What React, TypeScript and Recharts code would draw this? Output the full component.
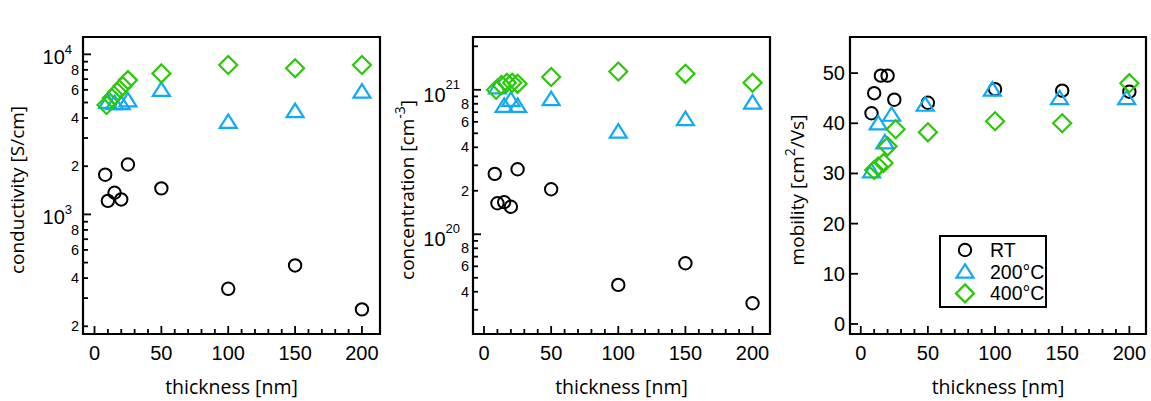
import React from 'react';
import { ScatterChart, Scatter, XAxis, YAxis, ReferenceArea, Legend } from 'recharts';

// ---------- data ----------
const thicknessRT = [8, 10, 15, 20, 25, 50, 100, 150, 200];
const thickness200 = [10, 15, 20, 25, 50, 100, 150, 200];
const thickness400 = [9, 13, 17, 21, 25, 50, 100, 150, 200];
// positions in panel (c) (slightly offset in the original)
const thickness200Mob = [8, 13, 18, 23, 48, 98, 148, 198];
const thickness400Mob = [10, 13, 17, 20, 26, 50, 100, 150, 200];

const conductivityRT = [1770, 1215, 1365, 1240, 2050, 1455, 343, 480, 255];
const conductivity200 = [5050, 4950, 4950, 5150, 6000, 3780, 4420, 5850];
const conductivity400 = [4820, 5340, 5810, 6340, 6900, 7600, 8570, 8180, 8570];

const concentrationRT = [2.62e20, 1.64e20, 1.67e20, 1.55e20, 2.82e20, 2.05e20, 4.46e19, 6.3e19, 3.33e19];
const concentration200 = [1.04e21, 7.74e20, 8.53e20, 7.74e20, 8.62e20, 5.14e20, 6.27e20, 8.16e20];
const concentration400 = [1.0e21, 1.08e21, 1.12e21, 1.12e21, 1.1e21, 1.225e21, 1.34e21, 1.29e21, 1.12e21];

const mobilityRT = [42.0, 46.0, 49.5, 49.5, 44.7, 44.1, 46.8, 46.5, 46.3];
const mobility200 = [30.4, 40.0, 36.2, 41.7, 43.7, 46.7, 45.0, 45.0];
const mobility400 = [30.7, 31.4, 32.1, 35.4, 38.8, 38.2, 40.4, 40.0, 48.0];

const seriesNames = ['RT', '200°C', '400°C'];
const panelTitles = ['(a)', '(b)', '(c)'];

const thickTicks = [0, 10, 20, 30, 40, 50, 60, 70, 80, 90, 100, 110, 120, 130, 140, 150, 160, 170, 180, 190, 200];
const thickLabels = [0, 50, 100, 150, 200];
const condTicks = [200, 300, 400, 500, 600, 700, 800, 900, 1000, 2000, 3000, 4000, 5000, 6000, 7000, 8000, 9000, 10000];
const condMinorLabels = [200, 400, 600, 800, 2000, 4000, 6000, 8000];
const concTicks = [3e19, 4e19, 5e19, 6e19, 7e19, 8e19, 9e19, 1e20, 2e20, 3e20, 4e20, 5e20, 6e20, 7e20, 8e20, 9e20, 1e21, 2e21];
const concMinorLabels = [4e19, 6e19, 8e19, 2e20, 4e20, 6e20, 8e20];
const mobTicks = [0, 10, 20, 30, 40, 50];

// ---------- styles ----------
const BLACK = '#000000';
const BLUE = '#12A9F4';
const GREEN = '#2BC80A';
const FONT_TICK = '"Liberation Sans", Arial, sans-serif';
const FONT_LABEL = '"Open Sans", "Noto Sans", sans-serif';

const zip = (xs: number[], ys: number[]) => xs.map((x, i) => ({ x, y: ys[i] }));

const CircleShape = (p: any) => (
  <circle cx={p.cx} cy={p.cy} r={6.2} fill="none" stroke={BLACK} strokeWidth={2} />
);
const TriangleShape = (p: any) => (
  <polygon
    points={`${p.cx},${p.cy - 7.5} ${p.cx + 8.5},${p.cy + 6} ${p.cx - 8.5},${p.cy + 6}`}
    fill="none"
    stroke={BLUE}
    strokeWidth={2.2}
    strokeLinejoin="miter"
  />
);
const DiamondShape = (p: any) => (
  <polygon
    points={`${p.cx},${p.cy - 9} ${p.cx + 9},${p.cy} ${p.cx},${p.cy + 9} ${p.cx - 9},${p.cy}`}
    fill="none"
    stroke={GREEN}
    strokeWidth={2.2}
  />
);

// ---------- ticks ----------
const BottomTick = (props: any) => {
  const { x, y, payload } = props;
  const v = payload.value as number;
  const major = thickLabels.includes(v);
  return (
    <g>
      <line x1={x} x2={x} y1={y} y2={y - (major ? 8 : 5)} stroke={BLACK} strokeWidth={1.8} />
      {major ? (
        <text x={x} y={y + 26} textAnchor="middle" fontSize={20} fontFamily={FONT_TICK} fill={BLACK}>
          {v}
        </text>
      ) : null}
    </g>
  );
};

const TopTick = (props: any) => {
  const { x, y, payload } = props;
  const v = payload.value as number;
  const major = thickLabels.includes(v);
  return <line x1={x} x2={x} y1={y} y2={y + (major ? 8 : 5)} stroke={BLACK} strokeWidth={1.8} />;
};

const makeLogTick = (minorLabels: number[], supDy: number, decadeDx: number, decadeDy: number) => (props: any) => {
  const { x, y, payload } = props;
  const v = payload.value as number;
  const e = Math.log10(v);
  const isDecade = Math.abs(e - Math.round(e)) < 1e-9;
  if (isDecade) {
    return (
      <g>
        <line x1={x} x2={x + 8} y1={y} y2={y} stroke={BLACK} strokeWidth={1.8} />
        <text x={x - decadeDx} y={y + decadeDy} textAnchor="end" fontFamily={FONT_TICK} fill={BLACK}>
          <tspan fontSize={20}>10</tspan>
          <tspan fontSize={13} dy={supDy}>{Math.round(e)}</tspan>
        </text>
      </g>
    );
  }
  const mant = Math.round(v / Math.pow(10, Math.floor(e)));
  return (
    <g>
      <line x1={x} x2={x + 5} y1={y} y2={y} stroke={BLACK} strokeWidth={1.8} />
      {minorLabels.includes(v) ? (
        <text x={x - 4} y={y + 5} textAnchor="end" fontSize={14.5} fontFamily={FONT_TICK} fill={BLACK}>
          {mant}
        </text>
      ) : null}
    </g>
  );
};

const LinearTick = (props: any) => {
  const { x, y, payload } = props;
  return (
    <g>
      <line x1={x} x2={x + 8} y1={y} y2={y} stroke={BLACK} strokeWidth={1.8} />
      <text x={x - 5} y={y + 7} textAnchor="end" fontSize={20} fontFamily={FONT_TICK} fill={BLACK}>
        {payload.value}
      </text>
    </g>
  );
};

// ---------- labels ----------
type Part = { t: string; sup?: boolean };
const makeYLabel = (parts: Part[], cx: number, cy: number) => () => (
  <text
    transform={`translate(${cx},${cy}) rotate(-90)`}
    x={0}
    y={6}
    textAnchor="middle"
    fontSize={19}
    fontFamily={FONT_LABEL}
    fill={BLACK}
  >
    {parts.map((p, i) => {
      const prevSup = i > 0 && parts[i - 1].sup;
      const dy = p.sup ? -9 : prevSup ? 9 : 0;
      return (
        <tspan key={i} dy={dy} fontSize={p.sup ? 14 : 19}>
          {p.t}
        </tspan>
      );
    })}
  </text>
);

const makeXLabel = (cx: number) => () => (
  <text x={cx} y={394} textAnchor="middle" fontSize={19.5} fontFamily={FONT_LABEL} fill={BLACK}>
    thickness [nm]
  </text>
);

const makeTitle = (title: string, cx: number) => () => (
  <text x={cx} y={30} textAnchor="middle" fontSize={18} fontFamily={FONT_LABEL} fill={BLACK}>
    {title}
  </text>
);

const LegendBox = () => (
  <div
    style={{
      width: 108,
      height: 73,
      border: '2px solid #000',
      boxSizing: 'border-box',
      background: '#fff',
    }}
  >
    <svg width={104} height={69} style={{ display: 'block' }}>
      {seriesNames.map((name, i) => {
        const cy = 13 + i * 21.7;
        const cx = 24;
        const shape =
          i === 0 ? CircleShape({ cx, cy }) : i === 1 ? TriangleShape({ cx, cy }) : DiamondShape({ cx, cy });
        return (
          <g key={name}>
            {shape}
            <text x={49} y={cy + 7} fontSize={19.5} fontFamily={FONT_TICK} fill={BLACK}>
              {name}
            </text>
          </g>
        );
      })}
    </svg>
  </div>
);

// ---------- panel ----------
type PanelProps = {
  width: number;
  yAxisWidth: number;
  marginRight: number;
  xDomain: [number, number];
  yDomain: [number, number];
  log: boolean;
  yTicks: number[];
  yTick: any;
  rt: { x: number; y: number }[];
  s200: { x: number; y: number }[];
  s400: { x: number; y: number }[];
  title: string;
  titleX: number;
  yLabel: Part[];
  yLabelX: number;
  legend?: boolean;
};

const Panel = (p: PanelProps) => {
  const plotCenter = (p.yAxisWidth + (p.width - p.marginRight)) / 2;
  return (
    <ScatterChart width={p.width} height={401} margin={{ top: 37, right: p.marginRight, bottom: 37, left: 0 }}>
      <XAxis
        xAxisId={0}
        dataKey="x"
        type="number"
        domain={p.xDomain}
        allowDataOverflow
        ticks={thickTicks}
        interval={0}
        tickSize={0}
        tickMargin={0}
        tickLine={false}
        axisLine={false}
        tick={BottomTick}
        height={30}
        label={makeXLabel(plotCenter)}
      />
      <XAxis
        xAxisId="top"
        orientation="top"
        type="number"
        domain={p.xDomain}
        allowDataOverflow
        ticks={thickTicks}
        interval={0}
        tickSize={0}
        tickMargin={0}
        tickLine={false}
        axisLine={false}
        tick={TopTick}
        height={0}
        label={makeTitle(p.title, p.titleX)}
      />
      <YAxis
        yAxisId={0}
        dataKey="y"
        type="number"
        scale={p.log ? 'log' : 'linear'}
        domain={p.yDomain}
        allowDataOverflow
        ticks={p.yTicks}
        interval={0}
        tickSize={0}
        tickMargin={0}
        tickLine={false}
        axisLine={false}
        tick={p.yTick}
        width={p.yAxisWidth}
        label={makeYLabel(p.yLabel, p.yLabelX, 190)}
      />
      <ReferenceArea
        xAxisId={0}
        yAxisId={0}
        x1={p.xDomain[0]}
        x2={p.xDomain[1]}
        y1={p.yDomain[0]}
        y2={p.yDomain[1]}
        fill="none"
        fillOpacity={0}
        stroke={BLACK}
        strokeWidth={2.2}
        ifOverflow="visible"
      />
      <Scatter name={seriesNames[0]} data={p.rt} shape={CircleShape} isAnimationActive={false} />
      <Scatter name={seriesNames[1]} data={p.s200} shape={TriangleShape} isAnimationActive={false} />
      <Scatter name={seriesNames[2]} data={p.s400} shape={DiamondShape} isAnimationActive={false} />
      {p.legend ? (
        <Legend
          layout="vertical"
          align="center"
          verticalAlign="middle"
          content={LegendBox}
          wrapperStyle={{ left: 169, top: 235, width: 108, height: 73 }}
        />
      ) : null}
    </ScatterChart>
  );
};

export default function App() {
  return (
    <div style={{ position: 'absolute', left: 0, top: 0, width: 1151, height: 401, background: '#fff' }}>
      <div style={{ position: 'absolute', left: 0, top: 0 }}>
        <Panel
          width={390}
          yAxisWidth={83}
          marginRight={10}
          xDomain={[-8.6, 213.5]}
          yDomain={[179, 12830]}
          log
          yTicks={condTicks}
          yTick={makeLogTick(condMinorLabels, -10, 11, 10)}
          rt={zip(thicknessRT, conductivityRT)}
          s200={zip(thickness200, conductivity200)}
          s400={zip(thickness400, conductivity400)}
          title={panelTitles[0]}
          titleX={213}
          yLabel={[{ t: 'conductivity [S/cm]' }]}
          yLabelX={18}
        />
      </div>
      <div style={{ position: 'absolute', left: 390, top: 0 }}>
        <Panel
          width={390}
          yAxisWidth={83}
          marginRight={10}
          xDomain={[-8.2, 213]}
          yDomain={[2.04e19, 2.32e21]}
          log
          yTicks={concTicks}
          yTick={makeLogTick(concMinorLabels, -13, 13, 12)}
          rt={zip(thicknessRT, concentrationRT)}
          s200={zip(thickness200, concentration200)}
          s400={zip(thickness400, concentration400)}
          title={panelTitles[1]}
          titleX={228}
          yLabel={[{ t: 'concentration [cm' }, { t: '-3', sup: true }, { t: ']' }]}
          yLabelX={18}
        />
      </div>
      <div style={{ position: 'absolute', left: 770, top: 0 }}>
        <Panel
          width={381}
          yAxisWidth={80}
          marginRight={5}
          xDomain={[-8, 212.4]}
          yDomain={[-2, 57.2]}
          log={false}
          yTicks={mobTicks}
          yTick={LinearTick}
          rt={zip(thicknessRT, mobilityRT)}
          s200={zip(thickness200Mob, mobility200)}
          s400={zip(thickness400Mob, mobility400)}
          title={panelTitles[2]}
          titleX={231}
          yLabel={[{ t: 'mobility [cm' }, { t: '2', sup: true }, { t: '/Vs]' }]}
          yLabelX={28}
          legend
        />
      </div>
    </div>
  );
}
